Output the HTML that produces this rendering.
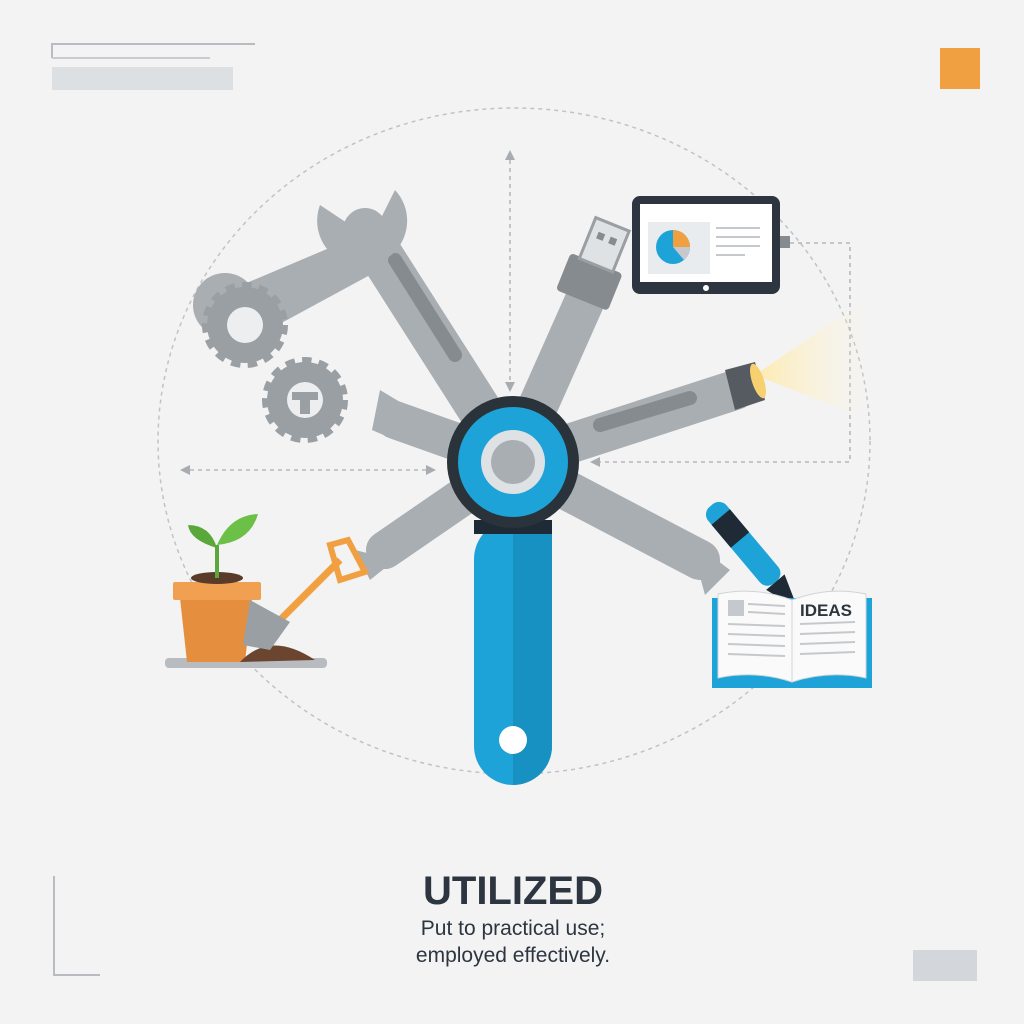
<!DOCTYPE html>
<html><head><meta charset="utf-8"><style>
html,body{margin:0;padding:0;background:#f3f3f3;}
svg{display:block}
</style></head><body>
<svg width="1024" height="1024" viewBox="0 0 1024 1024" xmlns="http://www.w3.org/2000/svg" font-family="Liberation Sans, sans-serif">
<rect width="1024" height="1024" fill="#f3f3f3"/>
<path d="M52 58 V44 H255" fill="none" stroke="#b8bcc0" stroke-width="2"/>
<line x1="52" y1="58" x2="210" y2="58" stroke="#c8ccd0" stroke-width="2"/>
<rect x="52" y="67" width="181" height="23" fill="#dde0e3"/>
<rect x="940" y="48" width="40" height="41" fill="#f0a040"/>
<path d="M54 876 V975 H100" fill="none" stroke="#b8bcc0" stroke-width="2"/>
<rect x="913" y="950" width="64" height="31" fill="#d3d7db"/>
<ellipse cx="514" cy="441" rx="356" ry="333" fill="none" stroke="#bfc3c7" stroke-width="1.5" stroke-dasharray="4 4"/>
<g stroke="#a8acb0" stroke-width="1.3" stroke-dasharray="4 4" fill="none">
<line x1="510" y1="152" x2="510" y2="390"/>
<line x1="182" y1="470" x2="432" y2="470"/>
<path d="M790 243 H850 V462 H595"/>
</g>
<g fill="#a8acb0">
<path d="M505 160 L510 150 L515 160Z"/><path d="M505 382 L510 392 L515 382Z"/>
<path d="M190 465 L180 470 L190 475Z"/><path d="M426 465 L436 470 L426 475Z"/>
<path d="M600 457 L590 462 L600 467Z"/>
</g>
<defs><linearGradient id="lb" x1="0" x2="1"><stop offset="0" stop-color="#ffe9a8" stop-opacity="0.9"/><stop offset="1" stop-color="#fff6d8" stop-opacity="0"/></linearGradient></defs>
<path d="M755 375 L865 300 L870 420 Z" fill="url(#lb)"/>
<g stroke-linecap="round">
<line x1="513" y1="462" x2="365" y2="230" stroke="#a9aeb2" stroke-width="44"/>
<line x1="513" y1="462" x2="585" y2="300" stroke="#a9aeb2" stroke-width="40"/>
<line x1="513" y1="462" x2="735" y2="390" stroke="#a9aeb2" stroke-width="40"/>
<line x1="513" y1="462" x2="395" y2="420" stroke="#a9aeb2" stroke-width="38"/>
<line x1="513" y1="462" x2="385" y2="550" stroke="#a9aeb2" stroke-width="38"/>
<line x1="513" y1="462" x2="700" y2="560" stroke="#a9aeb2" stroke-width="40"/>
<line x1="395" y1="260" x2="455" y2="355" stroke="#868b90" stroke-width="14"/>
<line x1="600" y1="425" x2="690" y2="398" stroke="#868b90" stroke-width="14"/>
</g>
<path d="M320 205 A45 45 0 1 0 395 190 L375 230 L350 225 Z" fill="#a9aeb2"/>
<path d="M360 235 L230 290 L215 320 L250 340 L370 275Z" fill="#a9aeb2"/>
<circle cx="225" cy="305" r="32" fill="#a9aeb2"/>
<g fill="#9a9fa4">
<circle cx="245" cy="325" r="38" stroke="#9a9fa4" stroke-width="10" stroke-dasharray="9 7"/>
<circle cx="245" cy="325" r="36"/>
<circle cx="305" cy="400" r="38" stroke="#9a9fa4" stroke-width="10" stroke-dasharray="9 7"/>
<circle cx="305" cy="400" r="36"/>
</g>
<circle cx="245" cy="325" r="18" fill="#eceeef"/><circle cx="305" cy="400" r="18" fill="#eceeef"/>
<rect x="292" y="392" width="26" height="8" fill="#9a9fa4"/><rect x="300" y="398" width="10" height="16" fill="#9a9fa4"/>
<g transform="rotate(22 590 280)">
<rect x="562" y="262" width="56" height="40" rx="4" fill="#868b90"/>
<rect x="572" y="220" width="36" height="44" fill="#dfe2e4" stroke="#9a9fa4" stroke-width="3"/>
<rect x="580" y="232" width="7" height="7" fill="#868b90"/><rect x="593" y="232" width="7" height="7" fill="#868b90"/>
</g>
<path d="M725 370 L755 362 L765 400 L735 410 Z" fill="#555b60"/>
<ellipse cx="758" cy="381" rx="6" ry="18" fill="#f7d070" transform="rotate(-18 758 381)"/>
<path d="M380 390 L405 405 L395 440 L372 430Z" fill="#a9aeb2"/>
<path d="M355 550 L370 580 L395 560Z" fill="#a9aeb2"/>
<path d="M690 540 L730 570 L705 595Z" fill="#a9aeb2"/>
<rect x="474" y="520" width="78" height="265" rx="39" fill="#1ea3d8"/>
<path d="M513 520 H552 V746 A39 39 0 0 1 513 785 Z" fill="#1790c2"/>
<rect x="474" y="520" width="78" height="14" fill="#1e2a35"/>
<circle cx="513" cy="740" r="14" fill="#fff"/>
<circle cx="513" cy="462" r="66" fill="#2a323a"/>
<circle cx="513" cy="462" r="55" fill="#1ea3d8"/>
<circle cx="513" cy="462" r="32" fill="#dfe2e4"/>
<circle cx="513" cy="462" r="22" fill="#a9aeb2"/>
<rect x="632" y="196" width="148" height="98" rx="8" fill="#2d3640"/>
<rect x="640" y="204" width="132" height="78" fill="#fff"/>
<rect x="648" y="222" width="62" height="52" fill="#e9ecef"/>
<circle cx="673" cy="247" r="17" fill="#1ea3d8"/><path d="M673 247 V230 A17 17 0 0 1 690 247Z" fill="#f0a040"/>
<path d="M673 247 H690 A17 17 0 0 1 684 260Z" fill="#c5c9cd"/>
<g stroke="#c5c9cd" stroke-width="2"><line x1="716" y1="228" x2="760" y2="228"/><line x1="716" y1="237" x2="760" y2="237"/><line x1="716" y1="246" x2="760" y2="246"/><line x1="716" y1="255" x2="745" y2="255"/></g>
<circle cx="706" cy="288" r="3" fill="#fff"/>
<rect x="780" y="236" width="10" height="12" fill="#868b90"/>
<g transform="rotate(50 740 540)">
<rect x="695" y="528" width="100" height="24" rx="10" fill="#1ea3d8"/>
<rect x="710" y="528" width="30" height="24" fill="#1e2a35"/>
<path d="M795 528 L830 540 L795 552Z" fill="#1e2a35"/>
</g>
<rect x="712" y="598" width="160" height="90" fill="#1ea3d8"/>
<path d="M718 594 Q755 586 792 600 L792 682 Q755 670 718 678Z" fill="#fafafa" stroke="#d0d4d8"/>
<path d="M866 594 Q829 586 792 600 L792 682 Q829 670 866 678Z" fill="#fafafa" stroke="#d0d4d8"/>
<rect x="728" y="600" width="16" height="16" fill="#c5c9cd"/>
<g stroke="#c5c9cd" stroke-width="2"><line x1="748" y1="604" x2="785" y2="606"/><line x1="748" y1="612" x2="785" y2="614"/><line x1="728" y1="624" x2="785" y2="626"/><line x1="728" y1="634" x2="785" y2="636"/><line x1="728" y1="644" x2="785" y2="646"/><line x1="728" y1="654" x2="785" y2="656"/><line x1="800" y1="624" x2="855" y2="622"/><line x1="800" y1="634" x2="855" y2="632"/><line x1="800" y1="644" x2="855" y2="642"/><line x1="800" y1="654" x2="855" y2="652"/></g>
<text x="800" y="616" font-size="17" font-weight="bold" fill="#2d3640">IDEAS</text>
<rect x="165" y="658" width="162" height="10" rx="4" fill="#b8bcc0"/>
<path d="M180 598 L252 598 L245 662 L187 662Z" fill="#e58f3e"/>
<rect x="173" y="582" width="88" height="18" rx="2" fill="#f0a050"/>
<ellipse cx="217" cy="578" rx="26" ry="6" fill="#5a3a28"/>
<path d="M217 578 V545" stroke="#5aa83c" stroke-width="4"/>
<path d="M217 548 Q190 540 188 525 Q210 525 217 548Z" fill="#5aa83c"/>
<path d="M217 545 Q230 515 258 514 Q250 542 217 545Z" fill="#6cc048"/>
<path d="M240 662 Q270 630 315 660Z" fill="#6b4530"/>
<line x1="280" y1="620" x2="340" y2="560" stroke="#f0a040" stroke-width="7"/>
<path d="M330 545 L348 540 L365 572 L340 580Z" fill="none" stroke="#f0a040" stroke-width="6"/>
<path d="M250 600 L290 622 L270 650 L243 645Z" fill="#9a9fa4"/>
<text x="513" y="904" text-anchor="middle" font-size="40" font-weight="bold" fill="#2d3640">UTILIZED</text>
<text x="513" y="935" text-anchor="middle" font-size="21" fill="#2d3640">Put to practical use;</text>
<text x="513" y="962" text-anchor="middle" font-size="21" fill="#2d3640">employed effectively.</text>
</svg>
</body></html>
